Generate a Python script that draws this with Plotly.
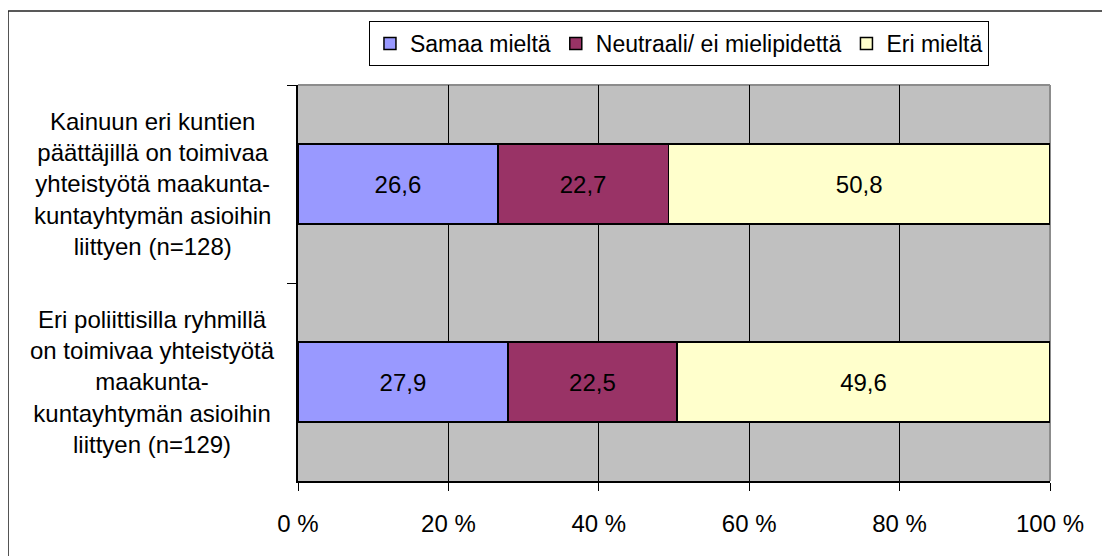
import plotly.graph_objects as go

# === Data ===
categories = [
    "Kainuun eri kuntien<br>päättäjillä on toimivaa<br>yhteistyötä maakunta-<br>kuntayhtymän asioihin<br>liittyen (n=128)",
    "Eri poliittisilla ryhmillä<br>on toimivaa yhteistyötä<br>maakunta-<br>kuntayhtymän asioihin<br>liittyen (n=129)",
]
series_names = ["Samaa mieltä", "Neutraali/ ei mielipidettä", "Eri mieltä"]
samaa = [26.6, 27.9]
neutraali = [22.7, 22.5]
eri = [50.8, 49.6]
x_ticks = [0, 20, 40, 60, 80, 100]
x_tick_labels = ["0 %", "20 %", "40 %", "60 %", "80 %", "100 %"]

colors = ["#9999FF", "#993366", "#FFFFCC"]
font_family = "Liberation Sans, Arial, sans-serif"
fsize = 24

fig = go.Figure()
for name, vals, col in zip(series_names, [samaa, neutraali, eri], colors):
    fig.add_trace(go.Bar(
        name=name,
        y=categories,
        x=vals,
        orientation="h",
        marker=dict(color=col, line=dict(color="black", width=1.5)),
        text=[f"{v:.1f}".replace(".", ",") for v in vals],
        textposition="inside",
        insidetextanchor="middle",
        textangle=0,
        textfont=dict(color="black", size=fsize, family=font_family),
        hoverinfo="skip",
    ))

# category labels, centred like the original
annotations = [
    dict(x=-0.193, xref="paper", y=c, yref="y", text=c, showarrow=False,
         xanchor="center", yanchor="middle", align="center",
         font=dict(size=fsize, family=font_family, color="black"))
    for c in categories
]

# plot area borders (gray top/right) and outer chart frame
shapes = [
    dict(type="line", xref="paper", yref="paper", x0=0, x1=1, y0=1, y1=1,
         line=dict(color="#8c8c8c", width=2), layer="below"),
    dict(type="line", xref="paper", yref="paper", x0=1, x1=1, y0=0, y1=1,
         line=dict(color="#8c8c8c", width=2), layer="below"),
    dict(type="line", xref="paper", yref="paper", x0=-0.3856, x1=-0.3856, y0=-0.3, y1=1.1869,
         line=dict(color="#222222", width=1.5)),
    dict(type="line", xref="paper", yref="paper", x0=-0.3856, x1=1.2, y0=1.1869, y1=1.1869,
         line=dict(color="#222222", width=1.5)),
]

# page body has an 8px margin, so the figure is sized to fit the window
fig.update_layout(
    barmode="stack",
    barnorm="percent",
    bargap=0.596,
    width=1102,
    height=548,
    margin=dict(l=290, r=60, t=77, b=75),
    paper_bgcolor="white",
    plot_bgcolor="#C0C0C0",
    font=dict(family=font_family, size=fsize, color="black"),
    legend=dict(
        orientation="h",
        x=0.5066, xanchor="center",
        y=1.1616, yanchor="top",
        bordercolor="black", borderwidth=1,
        font=dict(size=23, family=font_family),
        traceorder="normal",
        itemclick=False,
        itemwidth=30,
    ),
    annotations=annotations,
    shapes=shapes,
)

fig.update_xaxes(
    range=[0, 100],
    tickvals=x_ticks,
    ticktext=x_tick_labels,
    showgrid=True, gridcolor="black", gridwidth=1,
    showline=True, linecolor="black", linewidth=1.5,
    ticks="outside", ticklen=8, tickcolor="black",
    ticklabelstandoff=12,
    zeroline=False,
)
fig.update_yaxes(
    autorange="reversed",
    showticklabels=False,
    tickson="boundaries",
    ticks="outside", ticklen=9, tickcolor="black",
    showline=True, linecolor="black", linewidth=1.5,
    showgrid=False,
)

fig.write_html("out.html")
